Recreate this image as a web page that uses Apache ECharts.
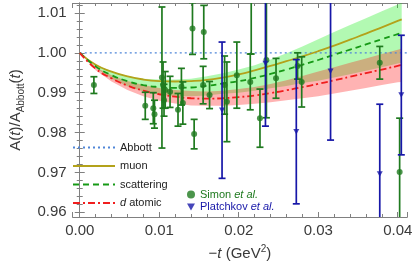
<!DOCTYPE html>
<html><head><meta charset="utf-8">
<script src="https://cdn.jsdelivr.net/npm/echarts@6/dist/echarts.min.js"></script>
<style>html,body{margin:0;padding:0;background:#fff}#c{width:415px;height:269px}</style>
</head><body><div id="c"></div>
<script>
// theory curves sampled on a common t grid
const tGrid      = [0,0.002,0.004,0.006,0.008,0.010,0.012,0.014,0.016,0.018,0.020,0.022,0.024,0.026,0.028,0.030,0.032,0.034,0.036,0.038,0.040,0.0405];
const muon       = [1.0,0.9970,0.9953,0.9941,0.9933,0.9929,0.9928,0.9929,0.9932,0.9938,0.9946,0.9956,0.9967,0.9979,0.9991,1.0004,1.0018,1.0033,1.0048,1.0064,1.0080,1.0084];
const scattering = [1.0,0.9966,0.9944,0.9929,0.9919,0.9914,0.9912,0.9913,0.9917,0.9923,0.9929,0.9937,0.9947,0.9958,0.9970,0.9982,0.9995,1.0008,1.0021,1.0034,1.0047,1.0050];
const scatteringErr = [0,0.0004,0.0009,0.0013,0.0016,0.0019,0.0021,0.0022,0.0024,0.0026,0.0029,0.0032,0.0036,0.0041,0.0046,0.0052,0.0057,0.0062,0.0066,0.0070,0.0074,0.0075];
const dAtomic    = [1.0,0.9960,0.9936,0.9918,0.9905,0.9896,0.9890,0.9886,0.9885,0.9886,0.9889,0.9893,0.9899,0.9906,0.9914,0.9922,0.9931,0.9940,0.9949,0.9958,0.9967,0.9969];
const dAtomicErr = [0,0.0004,0.0008,0.0011,0.0014,0.0016,0.0017,0.0018,0.0018,0.0019,0.0020,0.0021,0.0023,0.0025,0.0028,0.0031,0.0033,0.0035,0.0037,0.0039,0.0041,0.0042];
const abbottT = [0, 0.0412];
const abbottA = [1.0, 1.0];

// Simon et al.
const simonT   = [0.00178,0.00824,0.00925,0.0094,0.01034,0.01048,0.01060,0.01075,0.01136,0.01236,0.01279,0.01297,0.01418,0.01439,0.0156,0.01552,0.01633,0.01822,0.01851,0.01976,0.02145,0.02157,0.02267,0.02348,0.02469,0.0274,0.02792,0.03774,0.04024];
const simonA   = [0.9919,0.9867,0.9861,0.9846,0.9938,0.9919,0.9881,0.9907,0.9902,0.9857,0.9915,0.9874,1.0061,0.9796,1.0052,0.9919,0.9894,0.9919,0.9877,0.9944,0.9927,1.0130,0.9836,0.9982,0.9936,0.9967,0.9927,0.9975,0.9701];
const simonErr = [0.0021,0.0034,0.0039,0.0035,0.0177,0.0058,0.0040,0.0046,0.0039,0.0041,0.0046,0.0053,0.0065,0.0037,0.0067,0.0047,0.0034,0.0073,0.0100,0.0083,0.0070,0.0133,0.0073,0.0145,0.0050,0.0033,0.0063,0.0041,0.0135];

// Platchkov et al.
const platT   = [0.0179,0.02336,0.02724,0.03155,0.03774,0.04045];
const platA   = [0.9856,0.9973,0.9802,0.9954,0.9696,0.9894];
const platErr = [0.0171,0.0157,0.0181,0.0173,0.0175,0.0150];

const xTicks = [0.00,0.01,0.02,0.03,0.04];
const yTicks = [0.96,0.97,0.98,0.99,1.00,1.01];

const GREEN='#1f7a1f', BLUE='#1717a8';
const pairs = (xs, ys) => xs.map((x,i)=>[x, ys[i]]);

function errRender(color){
  return function(params, api){
    const x=api.value(0), y=api.value(1), e=api.value(2);
    const top=api.coord([x,y+e]), bot=api.coord([x,y-e]);
    const w=3.5, st={stroke:color,lineWidth:1.7};
    return {type:'group', children:[
      {type:'line', shape:{x1:top[0],y1:top[1],x2:bot[0],y2:bot[1]}, style:st},
      {type:'line', shape:{x1:top[0]-w,y1:top[1],x2:top[0]+w,y2:top[1]}, style:st},
      {type:'line', shape:{x1:bot[0]-w,y1:bot[1],x2:bot[0]+w,y2:bot[1]}, style:st}
    ]};
  };
}
// band polygon built from the curve and its half-width, through the axis scales
function bandRender(center, err, color){
  return function(params, api){
    const up=[], lo=[];
    for (let i=0;i<tGrid.length;i++){
      up.push(api.coord([tGrid[i], center[i]+err[i]]));
      lo.push(api.coord([tGrid[i], center[i]-err[i]]));
    }
    const pts = up.concat(lo.reverse());
    return {type:'polygon', shape:{points:pts, smooth:0}, style:{fill:color, stroke:null}};
  };
}

const fmt2 = v => {
  const k = v/0.01;
  return Math.abs(k-Math.round(k))<1e-6 ? (Math.round(k)*0.01).toFixed(2) : '';
};
const FRAME='#808080', LBL='#3a3a3a', FONT='Liberation Sans, Arial, sans-serif';

const baseX = {type:'value', min:-0.0009, max:0.0412, splitNumber:4,
  axisLine:{show:true,lineStyle:{color:FRAME,width:1}}, splitLine:{show:false},
  axisTick:{show:true,inside:true,length:5,lineStyle:{color:FRAME}},
  minorTick:{show:true,splitNumber:5,length:3,lineStyle:{color:FRAME}}};
const baseY = {type:'value', min:0.9588, max:1.0125, splitNumber:5,
  axisLine:{show:true,lineStyle:{color:FRAME,width:1}}, splitLine:{show:false},
  axisTick:{show:true,inside:true,length:5,lineStyle:{color:FRAME}},
  minorTick:{show:true,splitNumber:5,length:3,lineStyle:{color:FRAME}}};

const chart = echarts.init(document.getElementById('c'), null, {renderer:'canvas'});
chart.setOption({
  animation:false,
  textStyle:{fontFamily:FONT},
  grid:{left:61, right:7, top:3, bottom:52, containLabel:false},
  xAxis:[
    Object.assign({}, baseX, {position:'bottom',
      axisLabel:{formatter:fmt2, fontSize:15, color:LBL, margin:6, fontFamily:FONT, showMinLabel:false, showMaxLabel:false},
      name:'−{i|t} (GeV{sup|2})', nameLocation:'middle', nameGap:27,
      nameTextStyle:{fontSize:15, color:LBL, fontFamily:FONT, rich:{
        i:{fontStyle:'italic', fontSize:15, color:LBL, fontFamily:FONT},
        sup:{fontSize:10, color:LBL, verticalAlign:'top', lineHeight:20, fontFamily:FONT}}}}),
    Object.assign({}, baseX, {position:'top', axisLabel:{show:false}})
  ],
  yAxis:[
    Object.assign({}, baseY, {position:'left',
      axisLabel:{formatter:fmt2, fontSize:15, color:LBL, margin:6, fontFamily:FONT, showMinLabel:false, showMaxLabel:false},
      name:'A({i|t})/A{s|Abbott}({i|t})', nameLocation:'middle', nameGap:41,
      nameTextStyle:{fontSize:15, color:LBL, fontFamily:FONT, rich:{
        i:{fontStyle:'italic', fontSize:15, color:LBL, fontFamily:FONT},
        s:{fontSize:10, color:LBL, verticalAlign:'bottom', lineHeight:22, fontFamily:FONT}}}}),
    Object.assign({}, baseY, {position:'right', axisLabel:{show:false}})
  ],
  legend:[
    {orient:'vertical', left:67, top:137, itemWidth:42, itemHeight:12, itemGap:7.5, itemTextGap:7,
     data:['Abbott','muon','scattering','d atomic'], selectedMode:false,
     itemStyle:{opacity:0},
     textStyle:{fontSize:11, color:'#222', fontFamily:FONT, rich:{i:{fontStyle:'italic',fontSize:11,color:'#222',fontFamily:FONT}}},
     formatter: n => n==='d atomic' ? '{i|d} atomic' : n},
    {orient:'vertical', left:182, top:184, itemWidth:8, itemHeight:8, itemGap:1.5, itemTextGap:5,
     data:['Simon et al.','Platchkov et al.'], selectedMode:false,
     textStyle:{fontSize:11, fontFamily:FONT, rich:{
       g:{color:GREEN,fontSize:11,fontFamily:FONT}, gi:{color:GREEN,fontSize:11,fontStyle:'italic',fontFamily:FONT},
       b:{color:BLUE,fontSize:11,fontFamily:FONT}, bi:{color:BLUE,fontSize:11,fontStyle:'italic',fontFamily:FONT}}},
     formatter: n => n==='Simon et al.' ? '{g|Simon }{gi|et al.}' : '{b|Platchkov }{bi|et al.}'}
  ],
  series:[
    {type:'custom', name:'scatteringBand', data:[[0, 1]], renderItem:bandRender(scattering, scatteringErr, 'rgba(0,235,0,0.30)'), clip:true, silent:true, z:1},
    {type:'custom', name:'dAtomicBand', data:[[0, 1]], renderItem:bandRender(dAtomic, dAtomicErr, 'rgba(255,20,20,0.32)'), clip:true, silent:true, z:1},
    {type:'line', name:'Abbott', data:pairs(abbottT, abbottA), symbol:'none', lineStyle:{color:'#4f86d8', width:1.3, type:[2,3]}, itemStyle:{color:'#4f86d8'}, z:2},
    {type:'line', name:'muon', data:pairs(tGrid, muon), smooth:true, symbol:'none', lineStyle:{color:'#b3a21a', width:1.8}, itemStyle:{color:'#b3a21a'}, z:3},
    {type:'line', name:'scattering', data:pairs(tGrid, scattering), smooth:true, symbol:'none', lineStyle:{color:'#169a16', width:1.8, type:[6,4]}, itemStyle:{color:'#169a16'}, z:3},
    {type:'line', name:'d atomic', data:pairs(tGrid, dAtomic), smooth:true, symbol:'none', lineStyle:{color:'#f01e1e', width:1.8, type:[7,3,2,3]}, itemStyle:{color:'#f01e1e'}, z:3},
    {type:'custom', name:'simonErr', data:simonT.map((t,i)=>[t,simonA[i],simonErr[i]]), renderItem:errRender(GREEN), clip:true, silent:true, z:4},
    {type:'scatter', name:'Simon et al.', data:pairs(simonT, simonA), symbol:'circle', symbolSize:6, itemStyle:{color:GREEN}, z:5},
    {type:'custom', name:'platErr', data:platT.map((t,i)=>[t,platA[i],platErr[i]]), renderItem:errRender(BLUE), clip:true, silent:true, z:6},
    {type:'scatter', name:'Platchkov et al.', data:pairs(platT, platA), symbol:'path://M0,0 L10,0 L5,9 Z', symbolSize:[6,5.5], itemStyle:{color:BLUE}, z:7}
  ]
});
</script></body></html>
